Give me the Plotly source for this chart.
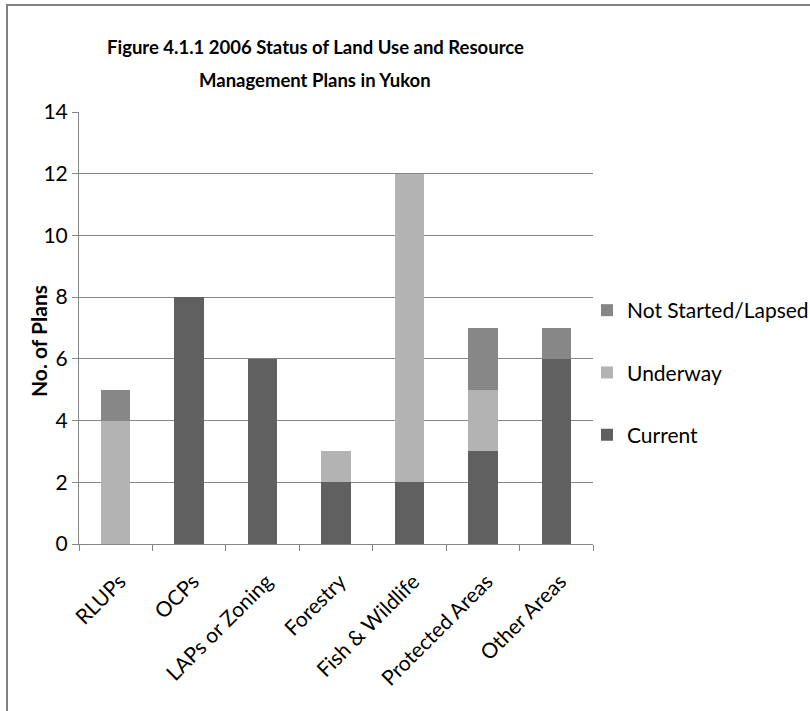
import plotly.graph_objects as go

categories = ["RLUPs", "OCPs", "LAPs or Zoning", "Forestry",
              "Fish & Wildlife", "Protected Areas", "Other Areas"]
current = [0, 8, 6, 2, 2, 3, 6]
underway = [4, 0, 0, 1, 10, 2, 0]
not_started = [1, 0, 0, 0, 0, 2, 1]

# (name, values, colour, legend rank)
series = [
    ("Current", current, "#606060", 3),
    ("Underway", underway, "#b3b3b3", 2),
    ("Not Started/Lapsed", not_started, "#878787", 1),
]

title_lines = ["Figure 4.1.1 2006 Status of Land Use and Resource",
               "Management Plans in Yukon"]
y_title = "No. of Plans"

FONT = "Lato"
W, H = 810, 711
L, R, T, B = 79, 217, 112, 167

fig = go.Figure()
for name, vals, color, rank in series:
    fig.add_trace(go.Bar(
        name=name, x=categories, y=vals,
        marker=dict(color=color, line=dict(width=0)),
        legendgroup=name, legendrank=rank,
    ))

pw, ph = W - L - R, H - T - B


def px_x(p):
    return (p - L) / pw


def px_y(p):
    return (H - B - p) / ph


annotations = [
    dict(text=f"<b>{line}</b>", xref="paper", yref="paper",
         x=px_x(315), y=px_y(yc), xanchor="center", yanchor="middle",
         showarrow=False, font=dict(family=FONT, size=18.5))
    for line, yc in zip(title_lines, (47, 80))
]
annotations.append(
    dict(text=f"<b>{y_title}</b>", xref="paper", yref="paper",
         x=px_x(38), y=px_y(341), xanchor="center", yanchor="middle",
         textangle=-90, showarrow=False, font=dict(family=FONT, size=21))
)

fig.update_layout(
    width=W, height=H,
    margin=dict(l=L, r=R, t=T, b=B, autoexpand=False),
    barmode="stack",
    bargap=0.6,
    plot_bgcolor="white",
    paper_bgcolor="white",
    font=dict(family=FONT, size=21, color="#000000"),
    showlegend=True,
    legend=dict(
        traceorder="grouped",
        x=px_x(587), y=px_y(290), xanchor="left", yanchor="top",
        font=dict(size=21),
        tracegroupgap=32,
        itemwidth=30,
        bgcolor="rgba(0,0,0,0)",
    ),
    annotations=annotations,
    shapes=[
        dict(type="rect", xref="paper", yref="paper",
             x0=px_x(7), x1=px_x(830), y0=px_y(5), y1=px_y(730),
             line=dict(color="#808080", width=2), layer="below"),
    ],
)

fig.update_xaxes(
    type="category",
    tickangle=-45,
    ticks="outside", tickson="boundaries", ticklen=6,
    tickcolor="#868686",
    showline=True, linecolor="#868686", linewidth=1,
    showgrid=False,
    tickfont=dict(size=21),
    ticklabelstandoff=16,
    ticklabelshift=4,
)
fig.update_yaxes(
    range=[0, 14], dtick=2,
    ticks="outside", ticklen=6, tickcolor="#868686",
    showline=True, linecolor="#868686", linewidth=1,
    showgrid=True, gridcolor="#868686", gridwidth=1,
    zeroline=False,
    tickfont=dict(size=21),
)

fig.write_html("out.html")
